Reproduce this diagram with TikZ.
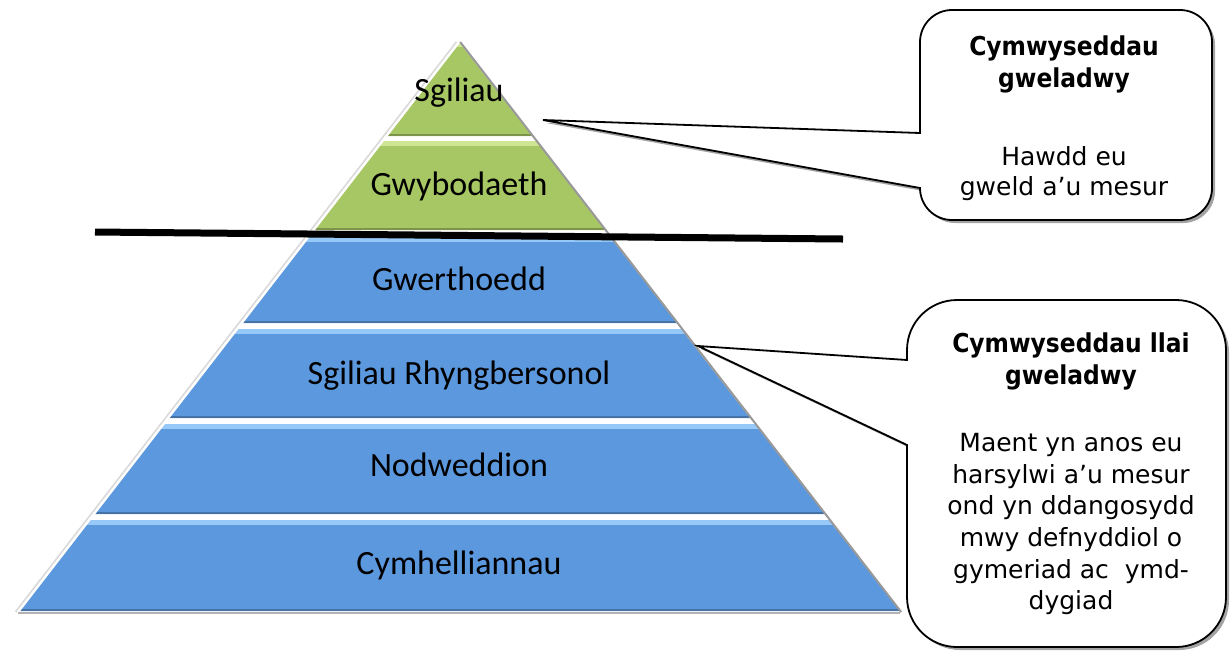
\documentclass[tikz,border=0pt]{standalone}
\usepackage{fontspec}
\usepackage{xcolor}
\usepackage{tikz}
\usetikzlibrary{positioning,shadows}
\newfontfamily\bandfont{Carlito}
\newfontfamily\notefont{DejaVu Sans}
\newfontfamily\noteheadfont{DejaVu Sans}[FakeStretch=0.9]

\definecolor{skyband}{RGB}{92,152,222}
\definecolor{skyglow}{RGB}{150,200,248}
\definecolor{leafband}{RGB}{166,199,99}
\definecolor{leafglow}{RGB}{206,229,148}

\begin{document}
\begin{tikzpicture}[x=0.5pt, y=-0.5pt]
        \tikzset{blueband/.style={fill=skyband, path picture={
            \fill[skyglow] (path picture bounding box.north west) rectangle ([yshift=-2.5pt]path picture bounding box.north east);
            \fill[skyband!75!black] ([yshift=1pt]path picture bounding box.south west) rectangle (path picture bounding box.south east);}}}
        \tikzset{greenband/.style={fill=leafband, path picture={
            \fill[leafglow] (path picture bounding box.north west) rectangle ([yshift=-2.5pt]path picture bounding box.north east);
            \fill[leafband!75!black] ([yshift=1pt]path picture bounding box.south west) rectangle (path picture bounding box.south east);}}}
        \tikzset{tier/.style={font=\bandfont\fontsize{17}{20}\selectfont, text height=11.5pt, text depth=3.5pt}}
        \tikzset{bubble/.style={draw=black, line width=0.9pt, fill=white, drop shadow={shadow xshift=1.5pt, shadow yshift=-1.5pt, fill=black!60, opacity=0.6}}}
        \tikzset{notehead/.style={align=center, font=\noteheadfont\bfseries\fontsize{13}{16}\selectfont}}

        \useasboundingbox (0,0) rectangle (1230,650);

        % Pyramid corners
        \coordinate (apex) at (459,42);
        \coordinate (baseL) at (18,612);
        \coordinate (baseR) at (900,612);

        % Visible tiers
        \path[greenband] (apex) -- (532,136) -- (386,136) -- cycle;
        \path[greenband] (382,141) -- (536,141) -- (605,230) -- (313,230) -- cycle;

        % Hidden tiers
        \path[blueband] (308,237) -- (610,237) -- (677,323) -- (241,323) -- cycle;
        \path[blueband] (237,329) -- (681,329) -- (750,418) -- (168,418) -- cycle;
        \path[blueband] (163,424) -- (755,424) -- (825,514) -- (93,514) -- cycle;
        \path[blueband] (89,520) -- (829,520) -- (900,611) -- (18,611) -- cycle;

        % Bevel edges
        \draw[black!15, line width=1pt] ([xshift=-1.2pt]apex) -- ([xshift=-1.2pt]baseL);
        \draw[white, line width=1.2pt] (apex) -- (baseL);
        \draw[black!40, line width=1pt] ([xshift=0.6pt]apex) -- ([xshift=0.6pt]baseR);
        \draw[black!30, line width=1pt] ([yshift=-0.5pt]baseL) -- ([yshift=-0.5pt]baseR);

        % Tier labels
        \node[tier] (sgiliau) at (459,93) {Sgiliau};
        \node[tier] (gwybod) at (459,187) {Gwybodaeth};
        \node[tier] (gwerth) at (459,282) {Gwerthoedd};
        \node[tier] (rhyng) at (459,376) {Sgiliau Rhyngbersonol};
        \node[tier] (nodwedd) at (459,468) {Nodweddion};
        \node[tier] (cymhell) at (459,566) {Cymhelliannau};

        % Dividing line
        \coordinate (cutL) at (95,232);
        \coordinate (cutR) at (843,239);
        \draw[line width=3.5pt] (cutL) -- (cutR);

        % Callout for the visible tiers
        \coordinate (tipA) at (543,120);
        \draw[bubble] (tipA) -- (920,133) -- (920,42) arc[start angle=180, end angle=90, radius=16pt]
            -- (1180,10) arc[start angle=90, end angle=0, radius=16pt]
            -- (1212,188) arc[start angle=0, end angle=-90, radius=16pt]
            -- (952,220) arc[start angle=-90, end angle=-180, radius=16pt] -- cycle;
        \node[notehead] (headA) at (1064,64) {Cymwyseddau\\gweladwy};
        \node[align=center, font=\notefont\fontsize{12.5}{15}\selectfont, below=19.8pt of headA] (bodyA) {Hawdd eu\\gweld a’u mesur};

        % Callout for the hidden tiers
        \coordinate (tipB) at (698,346);
        \draw[bubble] (tipB) -- (907,360) -- (907,350) arc[start angle=180, end angle=90, radius=25pt]
            -- (1176,300) arc[start angle=90, end angle=0, radius=25pt]
            -- (1226,597) arc[start angle=0, end angle=-90, radius=25pt]
            -- (957,647) arc[start angle=-90, end angle=-180, radius=25pt] -- (907,445) -- cycle;
        \node[notehead] (headB) at (1071,361) {Cymwyseddau llai\\gweladwy};
        \node[align=center, font=\notefont\fontsize{12.5}{15.8}\selectfont, below=14.8pt of headB] (bodyB) {Maent yn anos eu\\harsylwi a’u mesur\\ond yn ddangosydd\\mwy defnyddiol o\\gymeriad ac\ \ ymd-\\dygiad};
    \end{tikzpicture}
\end{document}
